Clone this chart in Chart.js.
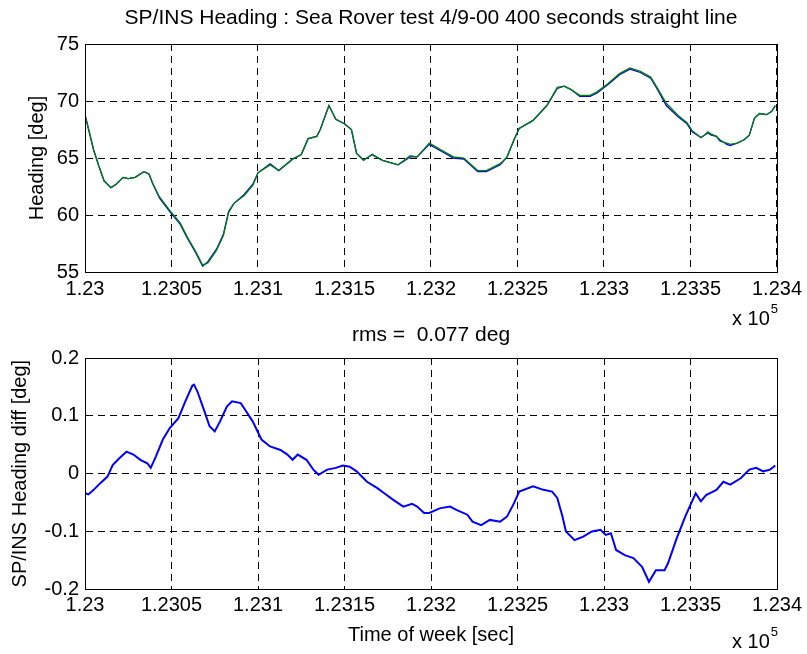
<!DOCTYPE html>
<html>
<head>
<meta charset="utf-8">
<title>SP/INS Heading</title>
<script src="https://cdn.jsdelivr.net/npm/chart.js@4.4.0/dist/chart.umd.min.js"></script>
<style>
  html, body { margin: 0; padding: 0; background: #ffffff; }
  #wrap { position: relative; width: 807px; height: 654px; overflow: hidden; }
  canvas { position: absolute; left: 0; }
  #heading-chart { top: 0; }
  #diff-chart { top: 320px; }
</style>
</head>
<body>
<div id="wrap">
  <canvas id="heading-chart" width="807" height="345"></canvas>
  <canvas id="diff-chart" width="807" height="334"></canvas>
</div>
<script>

// AXES //
const xTickValues = [123000, 123050, 123100, 123150, 123200, 123250, 123300, 123350, 123400];
const xTickLabels = ['1.23', '1.2305', '1.231', '1.2315', '1.232', '1.2325', '1.233', '1.2335', '1.234'];
const headingTickValues = [55, 60, 65, 70, 75];
const headingTickLabels = ['55', '60', '65', '70', '75'];
const diffTickValues = [-0.2, -0.1, 0, 0.1, 0.2];
const diffTickLabels = ['-0.2', '-0.1', '0', '0.1', '0.2'];

// HEADING : time of week [sec] //
const headingTime = [
  123000, 123005, 123008, 123011, 123015, 123018, 123022, 123025, 123029, 123034,
  123037, 123039, 123043, 123049, 123055, 123059, 123064, 123068, 123071, 123076,
  123080, 123083, 123086, 123092, 123097, 123100, 123107, 123112, 123120, 123125,
  123129, 123134, 123136, 123141, 123145, 123150, 123154, 123157, 123161, 123166,
  123172, 123181, 123188, 123192, 123199, 123207, 123213, 123219, 123227, 123232,
  123240, 123244, 123248, 123251, 123259, 123267, 123273, 123277, 123281, 123286,
  123292, 123296, 123302, 123309, 123315, 123321, 123327, 123331, 123336, 123343,
  123348, 123351, 123356, 123358, 123360, 123362, 123365, 123367, 123369, 123371,
  123373, 123377, 123381, 123384, 123387, 123390, 123394, 123397, 123399
];

// SP heading [deg] //
const headingSP = [
  68.8, 65.7, 64.3, 63.0, 62.4, 62.7, 63.3, 63.2, 63.3, 63.8,
  63.6, 62.8, 61.5, 60.3, 59.2, 58.0, 56.7, 55.5, 55.9, 57.0,
  58.3, 60.3, 61.0, 61.8, 62.7, 63.7, 64.5, 63.9, 64.9, 65.3,
  66.7, 66.9, 67.5, 69.6, 68.4, 68.0, 67.5, 65.4, 64.8, 65.3,
  64.8, 64.4, 65.1, 65.1, 66.2, 65.5, 65.0, 64.9, 63.8, 63.8,
  64.4, 65.1, 66.6, 67.6, 68.3, 69.6, 71.1, 71.3, 71.0, 70.4,
  70.4, 70.7, 71.4, 72.3, 72.8, 72.5, 72.0, 71.0, 69.6, 68.6,
  68.0, 67.3, 66.8, 67.0, 67.2, 67.0, 66.9, 66.5, 66.4, 66.2,
  66.1, 66.3, 66.6, 67.0, 68.5, 68.9, 68.8, 69.1, 69.6
];

// INS heading [deg] //
const headingINS = [
  68.8, 65.7, 64.3, 63.0, 62.4, 62.7, 63.3, 63.2, 63.3, 63.8,
  63.6, 62.8, 61.6, 60.4, 59.3, 58.1, 56.8, 55.6, 55.8, 56.9,
  58.2, 60.2, 61.0, 61.7, 62.6, 63.7, 64.4, 63.9, 64.9, 65.3,
  66.7, 66.9, 67.5, 69.6, 68.4, 68.0, 67.5, 65.4, 64.8, 65.3,
  64.8, 64.4, 65.2, 65.1, 66.3, 65.6, 65.1, 65.0, 63.9, 63.9,
  64.5, 65.1, 66.6, 67.6, 68.3, 69.6, 71.2, 71.3, 71.0, 70.5,
  70.5, 70.8, 71.5, 72.4, 72.9, 72.6, 72.1, 71.1, 69.8, 68.7,
  68.1, 67.4, 66.8, 67.0, 67.3, 67.1, 66.9, 66.6, 66.4, 66.3,
  66.2, 66.3, 66.6, 67.0, 68.5, 68.9, 68.8, 69.1, 69.6
];

// HEADING DIFF : time of week [sec] //
const diffTime = [
  123000, 123002, 123005, 123009, 123013, 123016, 123020, 123024, 123028, 123032,
  123036, 123038, 123041, 123045, 123049, 123054, 123058, 123062, 123063, 123065,
  123069, 123072, 123075, 123078, 123082, 123085, 123090, 123092, 123097, 123102,
  123107, 123113, 123117, 123120, 123123, 123128, 123132, 123135, 123140, 123145,
  123149, 123153, 123157, 123163, 123169, 123173, 123178, 123184, 123189, 123192,
  123196, 123199, 123205, 123211, 123215, 123221, 123224, 123229, 123234, 123240,
  123244, 123248, 123251, 123259, 123265, 123270, 123273, 123276, 123278, 123283,
  123288, 123293, 123298, 123301, 123304, 123307, 123312, 123317, 123322, 123326,
  123330, 123335, 123337, 123342, 123347, 123353, 123356, 123359, 123365, 123369,
  123373, 123379, 123384, 123388, 123392, 123396, 123399
];

// SP - INS heading [deg] //
const headingDiff = [
  -0.034, -0.036, -0.028, -0.016, -0.005, 0.015, 0.027, 0.038, 0.033, 0.024,
  0.018, 0.010, 0.030, 0.059, 0.079, 0.096, 0.125, 0.152, 0.154, 0.142,
  0.108, 0.082, 0.073, 0.090, 0.116, 0.125, 0.122, 0.113, 0.090, 0.059,
  0.047, 0.041, 0.033, 0.024, 0.033, 0.024, 0.007, -0.002, 0.007, 0.010,
  0.014, 0.012, 0.004, -0.014, -0.025, -0.034, -0.045, -0.057, -0.052, -0.057,
  -0.068, -0.068, -0.060, -0.057, -0.063, -0.071, -0.083, -0.089, -0.080, -0.083,
  -0.074, -0.051, -0.031, -0.022, -0.028, -0.031, -0.042, -0.074, -0.100, -0.115,
  -0.109, -0.100, -0.097, -0.106, -0.103, -0.132, -0.141, -0.146, -0.161, -0.187,
  -0.167, -0.167, -0.155, -0.112, -0.074, -0.034, -0.048, -0.037, -0.028, -0.014,
  -0.019, -0.008, 0.007, 0.010, 0.004, 0.007, 0.014
];

const FONT_FAMILY = '"Liberation Sans", Arial, Helvetica, sans-serif';
const GRID_DASH = [7, 5];

/**
 * closed black box round the plot area
 */
const axesBox = {
  id: 'axesBox',
  afterDatasetsDraw(chart) {
    const {ctx, chartArea} = chart;
    const left = Math.round(chartArea.left) + 0.5;
    const top = Math.round(chartArea.top) + 0.5;
    ctx.save();
    ctx.strokeStyle = '#000000';
    ctx.lineWidth = 1;
    ctx.setLineDash([]);
    ctx.strokeRect(left, top, Math.round(chartArea.right - chartArea.left), Math.round(chartArea.bottom - chartArea.top));
    ctx.restore();
  }
};

/**
 * axes title, centred over the plot area (not the whole canvas)
 */
const axesTitle = {
  id: 'axesTitle',
  afterDraw(chart, args, opts) {
    const {ctx, chartArea} = chart;
    ctx.save();
    ctx.fillStyle = '#000000';
    ctx.textAlign = 'center';
    ctx.textBaseline = 'middle';
    ctx.font = `21px ${ FONT_FAMILY }`;
    ctx.fillText(opts.text, (chartArea.left + chartArea.right) / 2, opts.y);
    ctx.restore();
  }
};

/**
 * "x 10^5" multiplier under the x axis
 */
const exponentLabel = {
  id: 'exponentLabel',
  afterDraw(chart, args, opts) {
    const ctx = chart.ctx;
    ctx.save();
    ctx.fillStyle = '#000000';
    ctx.textBaseline = 'alphabetic';
    ctx.textAlign = 'left';
    ctx.font = `20px ${ FONT_FAMILY }`;
    ctx.fillText(opts.base, opts.x, opts.y);
    const baseWidth = ctx.measureText(opts.base).width;
    ctx.font = `13px ${ FONT_FAMILY }`;
    ctx.fillText(opts.power, opts.x + baseWidth + 1, opts.y - 12);
    ctx.restore();
  }
};

/**
 *
 * @param {number[]} values
 * @param {string[]} labels
 * @param {number} size
 * @param {boolean} horizontal
 */
function fixedAxis(values, labels, size, horizontal) {
  return {
    afterBuildTicks: (scale) => { scale.ticks = values.map(value => ({value})); },
    afterFit: (scale) => {
      if (horizontal) { scale.height = size; } else { scale.width = size; }
    },
    ticks: {
      autoSkip: false,
      maxRotation: 0,
      color: '#000000',
      font: {family: FONT_FAMILY, size: 20},
      callback: (value, index) => labels[index]
    },
    grid: {
      color: '#000000',
      lineWidth: 1,
      drawTicks: false
    },
    border: {
      display: true,
      color: '#000000',
      dash: GRID_DASH
    }
  };
}

Chart.defaults.font.family = FONT_FAMILY;
Chart.defaults.color = '#000000';

// TOP PLOT : HEADING //
const headingX = fixedAxis(xTickValues, xTickLabels, 73, true);
headingX.type = 'linear';
headingX.min = 123000;
headingX.max = 123400;
headingX.ticks.padding = 5;

const headingY = fixedAxis(headingTickValues, headingTickLabels, 85, false);
headingY.min = 55;
headingY.max = 75;
headingY.ticks.padding = 6;
headingY.title = {display: true, text: 'Heading [deg]', font: {family: FONT_FAMILY, size: 20}, padding: {top: 25, bottom: 0}};

new Chart(document.getElementById('heading-chart'), {
  type: 'line',
  data: {
    datasets: [
      {
        label: 'INS',
        data: headingTime.map((t, i) => ({x: t, y: headingINS[i]})),
        borderColor: '#008000',
        borderWidth: 1.3,
        pointRadius: 0,
        tension: 0
      },
      {
        label: 'SP',
        data: headingTime.map((t, i) => ({x: t, y: headingSP[i]})),
        borderColor: '#0000ff',
        borderWidth: 1.3,
        pointRadius: 0,
        tension: 0
      }
    ]
  },
  options: {
    responsive: false,
    animation: false,
    devicePixelRatio: 1,
    layout: {padding: {top: 44, right: 30, bottom: 0, left: 0}},
    scales: {x: headingX, y: headingY},
    plugins: {
      legend: {display: false},
      tooltip: {enabled: false},
      title: {display: false},
      axesTitle: {text: 'SP/INS Heading : Sea Rover test 4/9-00 400 seconds straight line', y: 18},
      exponentLabel: {base: 'x 10', power: '5', x: 732, y: 325}
    }
  },
  plugins: [axesBox, axesTitle, exponentLabel]
});

// BOTTOM PLOT : HEADING DIFF //
const diffX = fixedAxis(xTickValues, xTickLabels, 64.7, true);
diffX.type = 'linear';
diffX.min = 123000;
diffX.max = 123400;
diffX.ticks.padding = 4;
diffX.title = {display: true, text: 'Time of week [sec]', font: {family: FONT_FAMILY, size: 20}, padding: {top: 0, bottom: 7}};

const diffY = fixedAxis(diffTickValues, diffTickLabels, 85, false);
diffY.min = -0.2;
diffY.max = 0.2;
diffY.ticks.padding = 6;
diffY.title = {display: true, text: 'SP/INS Heading diff [deg]', font: {family: FONT_FAMILY, size: 20}, padding: {top: 8, bottom: 0}};

new Chart(document.getElementById('diff-chart'), {
  type: 'line',
  data: {
    datasets: [{
      label: 'SP - INS',
      data: diffTime.map((t, i) => ({x: t, y: headingDiff[i]})),
      borderColor: '#0000ff',
      borderWidth: 2,
      pointRadius: 0,
      tension: 0
    }]
  },
  options: {
    responsive: false,
    animation: false,
    devicePixelRatio: 1,
    layout: {padding: {top: 38, right: 30, bottom: 0, left: 0}},
    scales: {x: diffX, y: diffY},
    plugins: {
      legend: {display: false},
      tooltip: {enabled: false},
      title: {display: false},
      axesTitle: {text: 'rms =  0.077 deg', y: 15},
      exponentLabel: {base: 'x 10', power: '5', x: 732, y: 328}
    }
  },
  plugins: [axesBox, axesTitle, exponentLabel]
});

</script>
</body>
</html>
